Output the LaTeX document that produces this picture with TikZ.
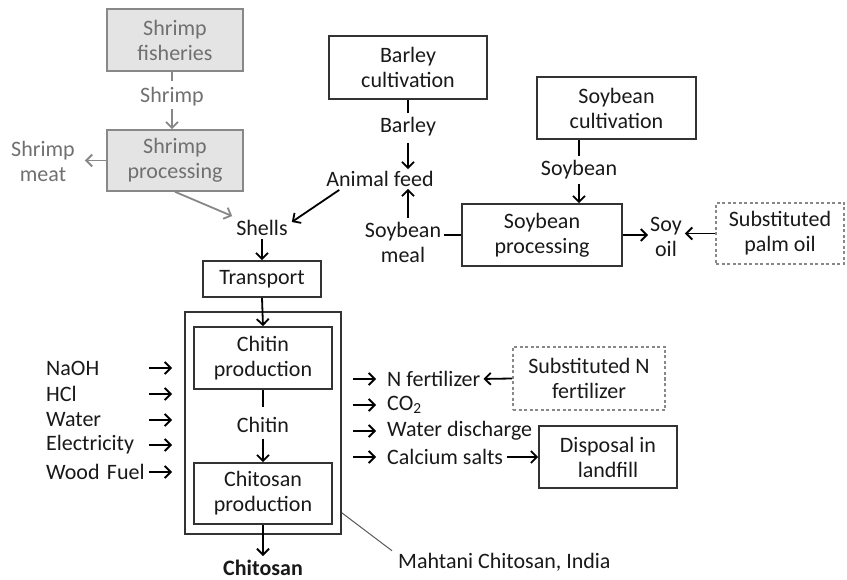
\documentclass[tikz,border=0pt]{standalone}
\usepackage{fontspec}
\setmainfont{Carlito}
\usetikzlibrary{arrows.meta,calc}
\definecolor{gtext}{HTML}{707070}
\definecolor{gfill}{HTML}{E4E4E4}
\definecolor{gline}{HTML}{888888}
\begin{document}
\begin{tikzpicture}[x=1pt,y=-1pt,
  every node/.style={font=\fontsize{22}{25}\selectfont, align=center, inner sep=2pt, text=black!90},
  box/.style={draw=black!80, line width=1.6pt, inner sep=0pt},
  gbox/.style={draw=gline, fill=gfill, line width=1.6pt, inner sep=0pt, text=gtext},
  dbox/.style={draw=gline, line width=1.6pt, inner sep=0pt, dash pattern=on 3pt off 2.5pt},
  lbl/.style={inner sep=0pt},
  arr/.style={line width=1.8pt, -{Straight Barb[length=6pt,width=12pt]}},
  garr/.style={arr, draw=gline},
  tick/.style={line width=1.8pt},
  gtick/.style={tick, draw=gline}]
\useasboundingbox (0,0) rectangle (847,580);
% boxes
\node[gbox, minimum width=136, minimum height=62] (fish) at (175,40) {Shrimp\\fisheries};
\node[gbox, minimum width=136, minimum height=61] (proc) at (175,160.5) {Shrimp\\processing};
\node[box, minimum width=158, minimum height=63] (barley) at (408,67.5) {Barley\\cultivation};
\node[box, minimum width=159, minimum height=62] (soycult) at (616.5,108) {Soybean\\cultivation};
\node[box, minimum width=160, minimum height=62] (soyproc) at (542,235) {Soybean\\processing};
\node[dbox, minimum width=128, minimum height=61] (palm) at (780,233.5) {Substituted\\palm oil};
\node[box, minimum width=118, minimum height=36] (transport) at (262,279) {Transport};
\node[box, minimum width=156, minimum height=222] (outer) at (263,423) {};
\node[box, minimum width=138, minimum height=62] (chitin) at (263,358) {Chitin\\production};
\node[box, minimum width=138, minimum height=61] (chitosanp) at (263,493.5) {Chitosan\\production};
\node[dbox, minimum width=152, minimum height=63] (nfert) at (589,378.5) {Substituted N\\fertilizer};
\node[box, minimum width=138, minimum height=62] (landfill) at (608,457) {Disposal in\\landfill};
% labels
\node[lbl, text=gtext] (shrimpl) at (172,97) {Shrimp};
\node[lbl, text=gtext] (meat) at (43,161) {Shrimp\\meat};
\node[lbl] (shells) at (262,228) {Shells};
\node[lbl] (barleyl) at (408,127) {Barley};
\node[lbl] (feed) at (380,179) {Animal feed};
\node[lbl] (soymeal) at (403,242) {Soybean\\meal};
\node[lbl] (soyl) at (579,170) {Soybean};
\node[lbl] (soyoil) at (666,237) {Soy\\oil};
\node[lbl] (chitinl) at (263,425) {Chitin};
\node[lbl, font=\fontsize{22}{25}\selectfont\bfseries] (chitosan) at (263,568) {Chitosan};
% inputs
\foreach \n/\t/\y in {i1/NaOH/368, i2/HCl/394, i3/Water/420, i4/Electricity/445, i5/Wood Fuel/472}{
  \node[lbl, anchor=west, text width=99, align=left] (\n) at (46,\y) {\mbox{\t}};
  \coordinate (\n e) at (172,\y);
  \draw[arr, shorten <=4pt] (\n.east) -- (\n e);
}
% outputs
\foreach \n/\t/\y in {o1/N fertilizer/379, o2/CO\textsubscript{2}/405, o3/Water discharge/431, o4/Calcium salts/457}{
  \node[lbl, anchor=west] (\n) at (387,\y) {\t};
  \coordinate (\n s) at (353,\y);
  \draw[arr, shorten >=11pt] (\n s) -- (\n.west);
}
\node[lbl, anchor=west] (mahtani) at (398,562) {Mahtani Chitosan, India};
% connectors
\draw[gtick, shorten >=6pt] (fish.south -| shrimpl) -- (shrimpl.north);
\draw[garr, shorten <=2pt] (shrimpl.south) -- (proc.north -| shrimpl);
\draw[garr, shorten >=10pt] (proc.west) -- (meat.east |- proc.west);
\draw[garr] (proc.south) -- ($(shells.north west)+(-4,-4)$);
\coordinate (feedout) at ($(feed.south west)+(13,3)$);
\draw[arr] (feedout) -- ($(shells.east)+(4,-6)$);
\draw[tick, shorten >=4pt] (barley.south) -- (barleyl.north);
\draw[arr, shorten <=6pt, shorten >=2pt] (barleyl.south) -- (feed.north -| barleyl);
\draw[arr, shorten <=4pt, shorten >=2pt] (soymeal.north -| barleyl) -- (feed.south -| barleyl);
\draw[tick, shorten >=4pt] (soycult.south -| soyl) -- (soyl.north);
\draw[arr, shorten <=4pt] (soyl.south) -- (soyproc.north -| soyl);
\draw[tick, shorten <=3pt] (soyproc.west -| soymeal.east) -- (soyproc.west);
\draw[arr, shorten >=2pt] (soyproc.east) -- (soyoil.west |- soyproc.east);
\draw[arr, shorten >=3pt] (palm.west) -- (soyoil.east |- palm.west);
\draw[arr, shorten <=3pt] (shells.south) -- (transport.north);
\draw[arr] (transport.south) -- (chitin.north);
\draw[tick, shorten >=10pt] (chitin.south) -- (chitinl.north);
\draw[arr, shorten <=6pt] (chitinl.south) -- (chitosanp.north);
\draw[arr, shorten >=4pt] (chitosanp.south) -- (chitosan.north);
\draw[arr, shorten >=3pt] (nfert.west) -- (o1.east);
\draw[arr, shorten <=4pt] (o4.east) -- (landfill.west);
\draw[line width=1pt, draw=black!65] ($(outer.south east)+(0,-22)$) -- ($(mahtani.north west)+(-6,-2)$);
\end{tikzpicture}
\end{document}
